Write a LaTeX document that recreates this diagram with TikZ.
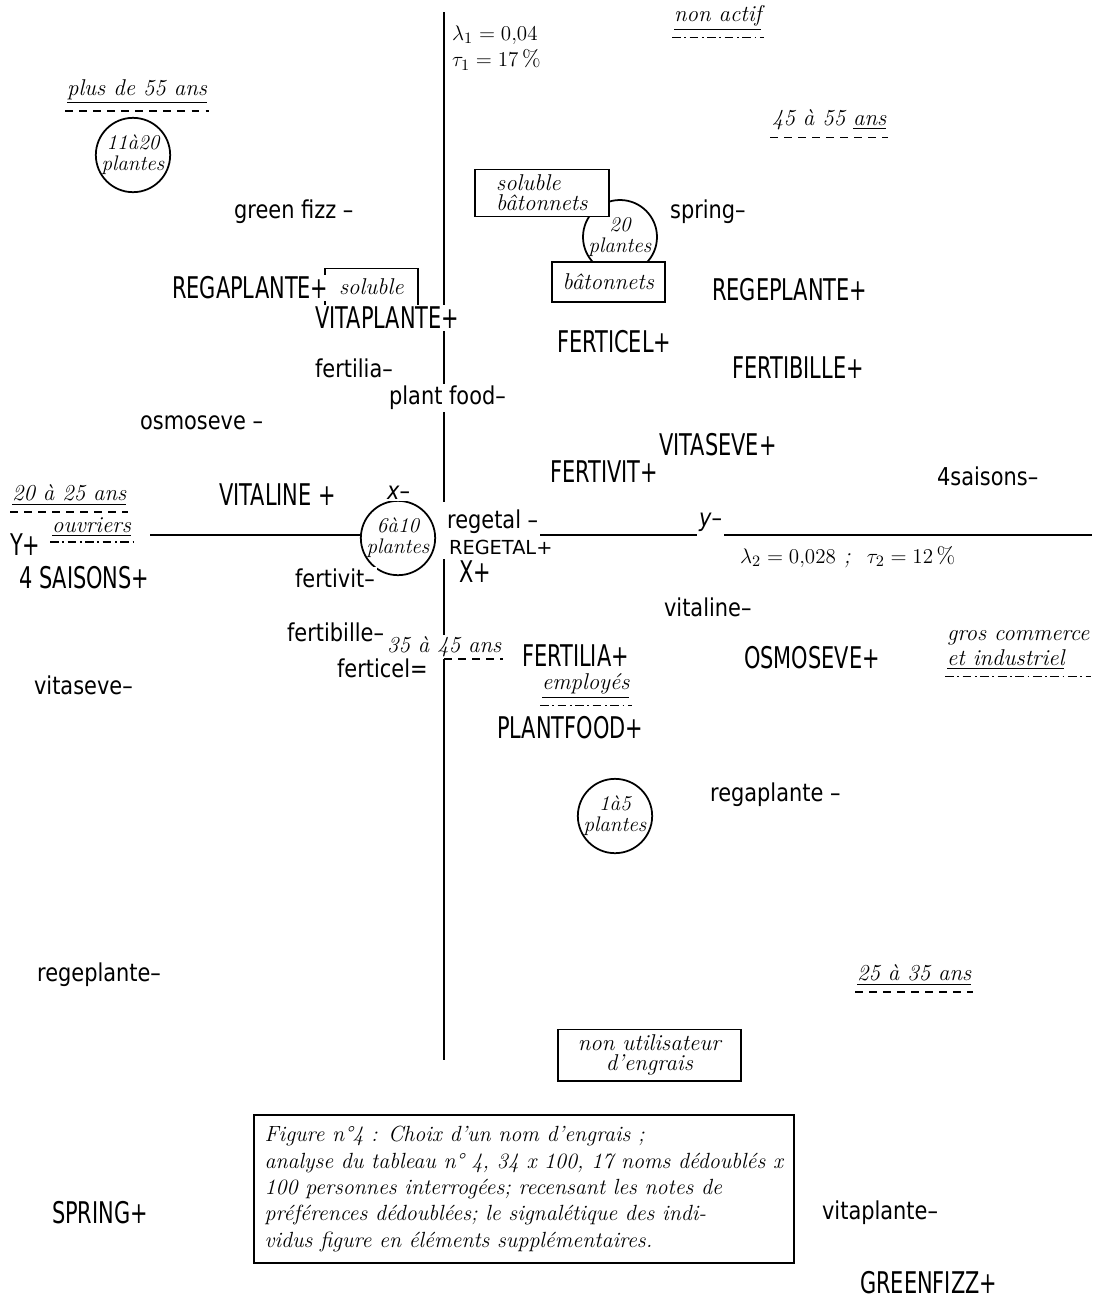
\documentclass[tikz,border=0pt]{standalone}
\usepackage{fontspec}
\usetikzlibrary{backgrounds}
\newfontfamily\stencil[FakeStretch=0.7]{DejaVu Sans}
\newfontfamily\roundhand[FakeStretch=0.85]{DejaVu Sans}

\tikzset{
	brand/.style={anchor=west, fill=white, inner sep=1pt, font=\stencil\fontsize{17}{17}\selectfont},
	minor/.style={anchor=west, fill=white, inner sep=1pt, font=\roundhand\fontsize{14}{14}\selectfont},
	hand/.style={anchor=west, inner sep=1pt, font=\itshape\fontsize{13}{14}\selectfont},
	tag/.style={hand, draw, fill=white, line width=1pt, inner sep=3pt, align=left, font=\itshape\fontsize{13}{11.5}\selectfont},
	ring/.style={draw, circle, fill=white, line width=1pt, inner sep=0pt, minimum size=1.48cm, align=center, font=\itshape\fontsize{12}{12}\selectfont},
	dashline/.style={line width=1pt, dash pattern=on 4.5pt off 3.5pt},
	dotline/.style={line width=1pt, dash pattern=on 5pt off 2pt on 1pt off 2pt},
	axis/.style={line width=1pt},
}

\begin{document}
\begin{tikzpicture}[x=0.02cm, y=-0.02cm]
	\useasboundingbox (0,0) rectangle (1108,1306);
	\coordinate (axT) at (444,12);
	\coordinate (axB) at (444,1060);
	\coordinate (axL) at (150,535);
	\coordinate (axR) at (1092,535);

	% groups of plants
	\node[ring] (r1120) at (133,155) {11à20\\plantes};
	\node[ring] (r20) at (620,237) {20\\plantes};
	\node[ring] (r610) at (398,538) {6à10\\plantes};
	\node[ring] (r15) at (615,816) {1à5\\plantes};

	\node[tag, minimum width=2.68cm, minimum height=0.86cm] (solbat) at (474,193) {soluble\\bâtonnets};
	\node[tag, minimum width=2.26cm, minimum height=0.8cm] (bat) at (551,282) {bâtonnets};
	\node[tag, minimum width=1.86cm, minimum height=0.74cm] (sol) at (324,287) {soluble};
	\node[tag, align=center, minimum width=3.66cm, minimum height=1cm] (nonutil) at (557,1055) {non utilisateur\\d'engrais};

	\node[hand, fill=white] (age3545) at (385,647) {35 à 45 ans};

	\foreach \x/\y/\n/\t in {170/288/regaP/REGAPLANTE+, 710/290/regeP/REGEPLANTE+,
		313/318/vitaP/VITAPLANTE+, 555/342/fcelP/FERTICEL+, 730/368/fbilP/FERTIBILLE+,
		657/445/vsevP/VITASEVE+, 548/472/fvitP/FERTIVIT+, 217/495/vlinP/VITALINE +,
		8/545/yplus/Y+, 17/578/saisP/4 SAISONS+, 457/572/xplus/X+,
		520/656/flilP/FERTILIA+, 742/658/osmoP/OSMOSEVE+, 495/728/pfodP/PLANTFOOD+,
		50/1213/sprP/SPRING+, 858/1283/grfP/GREENFIZZ+}{
		\node[brand] (\n) at (\x,\y) {\t};
	}
	\node[brand, font=\fontspec{DejaVu Sans}\fontsize{11}{11}\selectfont] (regetalP) at (447,547) {REGETAL+};

	\foreach \x/\y/\n/\t in {232/212/grfM/green  fizz –, 668/212/sprM/spring–,
		313/368/flilM/fertilia–, 387/398/pfodM/plant food–, 138/423/osmoM/osmoseve –,
		935/476/saisM/4saisons–, 445/522/regetal/regetal –, 293/578/fvitM/fertivit–,
		662/607/vlinM/vitaline–, 285/632/fbilM/fertibille–, 335/668/fcelM/ferticel=,
		32/685/vsevM/vitaseve–, 708/795/regaM/regaplante –, 35/975/regeM/regeplante–,
		820/1213/vitaM/vitaplante–}{
		\node[minor] (\n) at (\x,\y) {\t};
	}
	\node[minor] (xminus) at (385,493) {\textit{x}–};
	\node[minor] (ylab) at (697,522) {\textit{y}–};

	% axis values
	\node[hand] (lam1) at (450,35) {$\lambda_1 = 0{,}04$};
	\node[hand] (tau1) at (450,60) {$\tau_1 = 17\,\%$};
	\node[hand] (lam2) at (738,557) {$\lambda_2 = 0{,}028$ ;\ \ $\tau_2 = 12\,\%$};

	% supplementary elements
	\node[hand] (nonactif) at (672,18) {\underline{non actif}};
	\node[hand] (plus55) at (65,92) {\underline{plus de 55 ans}};
	\node[hand] (age4555) at (770,120) {45 à 55 \underline{ans}};
	\node[hand] (age2025) at (10,495) {\underline{20 à 25 ans}};
	\node[hand] (ouvriers) at (50,527) {\underline{ouvriers}};
	\node[hand] (employes) at (540,686) {\underline{employés}};
	\node[hand, align=left] (gros) at (945,650) {gros commerce\\\underline{et industriel}};
	\node[hand] (age2535) at (855,975) {\underline{25 à 35 ans}};

	\draw[dotline] ([yshift=-3pt]nonactif.south west) -- ([yshift=-3pt]nonactif.south east);
	\draw[dashline] ([yshift=-3pt]plus55.south west) -- ([yshift=-3pt]plus55.south east);
	\draw[dashline] ([yshift=-3pt]age4555.south west) -- ([yshift=-3pt]age4555.south east);
	\draw[dashline] ([yshift=-3pt]age2025.south west) -- ([yshift=-3pt]age2025.south east);
	\draw[dotline] ([yshift=-2pt]ouvriers.south west) -- ([yshift=-2pt]ouvriers.south east);
	\draw[dashline] (age3545.south) -- (age3545.south east);
	\draw[dotline] ([yshift=-3pt]employes.south west) -- ([yshift=-3pt]employes.south east);
	\draw[dotline] ([yshift=-3pt]gros.south west) -- ([yshift=-3pt]gros.south east);
	\draw[dashline] ([yshift=-3pt]age2535.south west) -- ([yshift=-3pt]age2535.south east);

	\node[tag, inner sep=4pt, minimum width=10.8cm, minimum height=2.96cm, font=\itshape\fontsize{12.5}{15}\selectfont] (caption) at (253,1189) {Figure n°4 : Choix d'un nom d'engrais ;\\
		analyse du tableau n° 4, 34 x 100, 17 noms dédoublés x\\
		100 personnes interrogées; recensant les notes de\\
		préférences dédoublées; le signalétique des indi-\\
		vidus figure en éléments supplémentaires.};

	\begin{pgfonlayer}{background}
		\draw[axis] (axT) -- (axT |- xminus.south);
		\draw[axis] (axT |- xplus.north) -- (axB);
		\draw[axis] (axL) -- (axL -| r610.west);
		\draw[axis] (axL -| regetal.east) -- (axL -| ylab.west);
		\draw[axis] (axL -| ylab.east) -- (axR);
	\end{pgfonlayer}
\end{tikzpicture}
\end{document}
